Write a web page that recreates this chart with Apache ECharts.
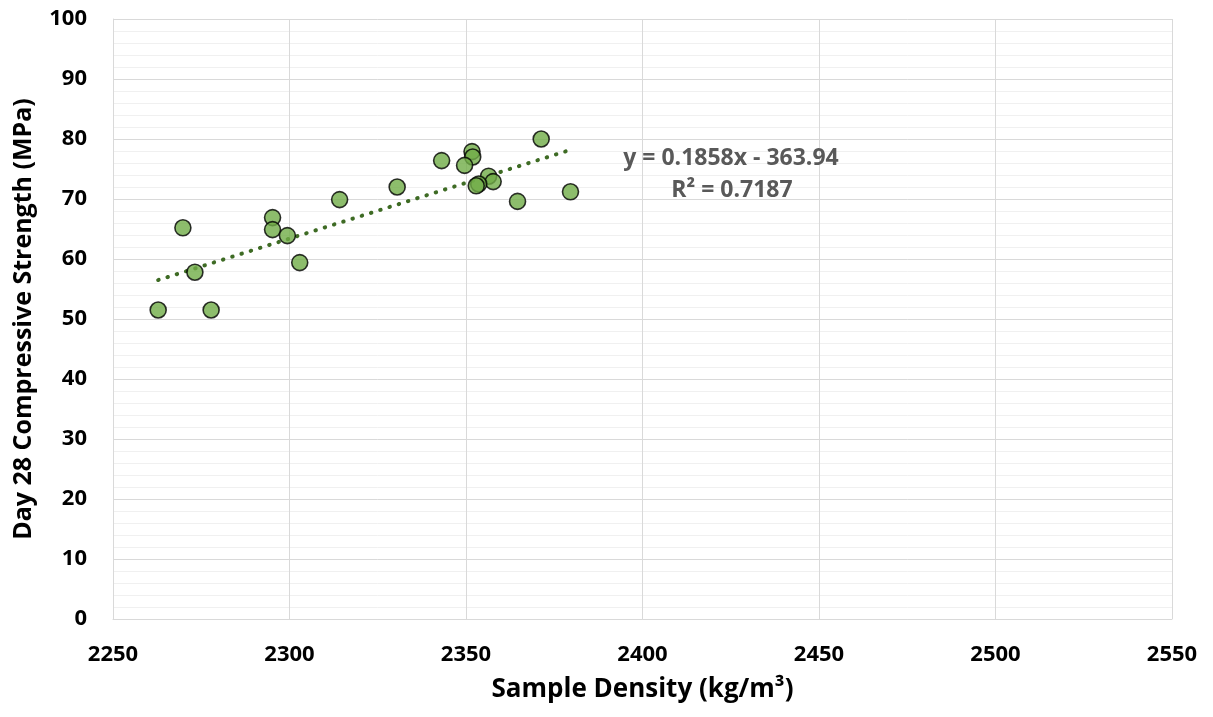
<!DOCTYPE html>
<html>
<head>
<meta charset="utf-8">
<script src="https://cdn.jsdelivr.net/npm/echarts@6/dist/echarts.min.js"></script>
<style>
  html, body { margin: 0; padding: 0; background: #ffffff; }
  #chart { width: 1213px; height: 717px; }
</style>
</head>
<body>
<div id="chart"></div>
<script>
// Sample density (kg/m³) and day-28 compressive strength (MPa)
const density = [2262.8, 2269.8, 2273.2, 2277.8, 2295.2, 2295.2, 2299.4, 2302.9, 2314.2, 2330.5, 2343.1,
                 2351.7, 2351.9, 2349.6, 2356.4, 2357.7, 2353.6, 2352.9, 2364.6, 2371.3, 2379.6];
const strength = [51.5, 65.2, 57.8, 51.5, 66.9, 64.9, 63.9, 59.4, 69.9, 72.0, 76.4,
                  77.9, 77.0, 75.6, 73.8, 72.9, 72.5, 72.2, 69.6, 80.0, 71.2];

// Linear trend line as reported
const slope = 0.1858;
const intercept = -363.94;
const rSquared = 0.7187;

const xTicks = { min: 2250, max: 2550, interval: 50 };
const yTicks = { min: 0, max: 100, interval: 10 };

const points = density.map((d, i) => [d, strength[i]]);
const xLo = Math.min(...density);
const xHi = Math.max(...density);
const trend = [[xLo, slope * xLo + intercept], [xHi, slope * xHi + intercept]];

const font = '"Open Sans", "Noto Sans", sans-serif';
const chart = echarts.init(document.getElementById('chart'));

chart.setOption({
  animation: false,
  backgroundColor: '#ffffff',
  grid: { left: 113, right: 41, top: 19, bottom: 98, containLabel: false },
  xAxis: {
    type: 'value',
    min: xTicks.min, max: xTicks.max, interval: xTicks.interval,
    name: 'Sample Density (kg/m³)',
    nameLocation: 'middle',
    nameGap: 58,
    nameTextStyle: { fontFamily: font, fontWeight: 'bold', fontSize: 26, color: '#000' },
    axisLine: { show: true, lineStyle: { color: '#d9d9d9', width: 1 } },
    axisTick: { show: false },
    axisLabel: {
      fontFamily: font, fontWeight: 'bold', fontSize: 22, color: '#000', margin: 25,
      formatter: v => String(v)
    },
    splitLine: { show: true, lineStyle: { color: '#d9d9d9', width: 1 } }
  },
  yAxis: {
    type: 'value',
    min: yTicks.min, max: yTicks.max, interval: yTicks.interval,
    name: 'Day 28 Compressive Strength (MPa)',
    nameLocation: 'middle',
    nameGap: 77,
    nameRotate: 90,
    nameTextStyle: { fontFamily: font, fontWeight: 'bold', fontSize: 25, color: '#000' },
    axisLine: { show: true, lineStyle: { color: '#d9d9d9', width: 1 } },
    axisTick: { show: false },
    axisLabel: {
      fontFamily: font, fontWeight: 'bold', fontSize: 22, color: '#000', margin: 26,
      formatter: v => String(v)
    },
    splitLine: { show: true, lineStyle: { color: '#d9d9d9', width: 1 } },
    minorTick: { show: false, splitNumber: 5 },
    minorSplitLine: { show: true, lineStyle: { color: '#f0f0f0', width: 1 } }
  },
  series: [
    {
      type: 'line',
      data: trend,
      symbol: 'none',
      silent: true,
      z: 3,
      lineStyle: { color: '#3e6b24', width: 4, type: [0.5, 9.2], cap: 'round' }
    },
    {
      type: 'scatter',
      data: points,
      symbol: 'circle',
      symbolSize: 16,
      z: 4,
      itemStyle: { color: '#70ad47', borderColor: '#000000', borderWidth: 1.6 }
    }
  ],
  graphic: [
    {
      type: 'text', x: 731, y: 158, z: 100,
      style: {
        text: 'y = 0.1858x - 363.94', font: 'bold 23px ' + font, fill: '#595959',
        textAlign: 'center', textVerticalAlign: 'middle'
      }
    },
    {
      type: 'text', x: 732, y: 190, z: 100,
      style: {
        text: 'R² = ' + rSquared, font: 'bold 23px ' + font, fill: '#595959',
        textAlign: 'center', textVerticalAlign: 'middle'
      }
    }
  ]
});
</script>
</body>
</html>
